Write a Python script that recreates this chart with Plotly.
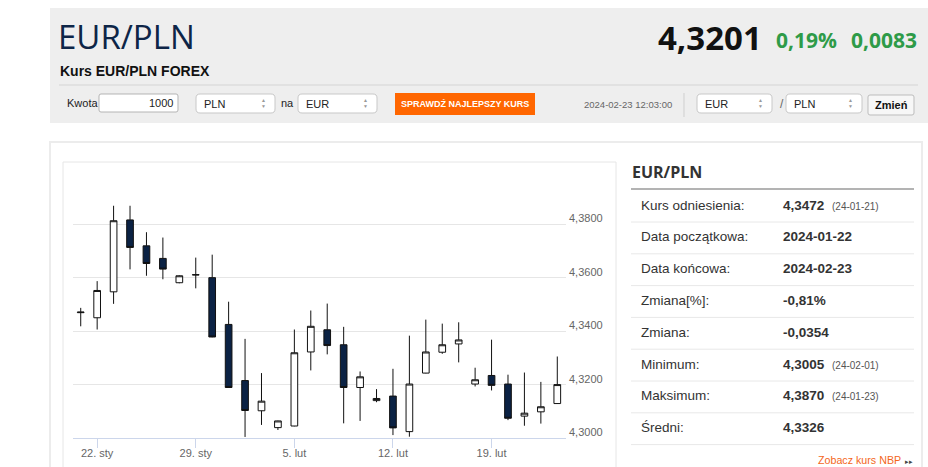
import plotly.graph_objects as go

# daily EUR/PLN candles (Sun-Fri sessions)
dates = ["2024-01-21", "2024-01-22", "2024-01-23", "2024-01-24", "2024-01-25", "2024-01-26",
         "2024-01-28", "2024-01-29", "2024-01-30", "2024-01-31", "2024-02-01", "2024-02-02",
         "2024-02-04", "2024-02-05", "2024-02-06", "2024-02-07", "2024-02-08", "2024-02-09",
         "2024-02-11", "2024-02-12", "2024-02-13", "2024-02-14", "2024-02-15", "2024-02-16",
         "2024-02-18", "2024-02-19", "2024-02-20", "2024-02-21", "2024-02-22", "2024-02-23"]
opens = [4.3470, 4.3451, 4.3548, 4.3817, 4.3720, 4.3673, 4.3582, 4.3611, 4.3601, 4.3426,
         4.3216, 4.3103, 4.3040, 4.3046, 4.3323, 4.3406, 4.3350, 4.3190, 4.3141, 4.3158,
         4.3025, 4.3244, 4.3322, 4.3353, 4.3203, 4.3235, 4.3203, 4.3083, 4.3099, 4.3130]
highs = [4.3488, 4.3588, 4.3870, 4.3870, 4.3771, 4.3751, 4.3610, 4.3676, 4.3687, 4.3511,
         4.3372, 4.3244, 4.3066, 4.3407, 4.3478, 4.3504, 4.3417, 4.3250, 4.3184, 4.3260,
         4.3384, 4.3444, 4.3429, 4.3434, 4.3264, 4.3369, 4.3238, 4.3246, 4.3211, 4.3306]
lows = [4.3419, 4.3407, 4.3503, 4.3632, 4.3608, 4.3595, 4.3580, 4.3561, 4.3378, 4.3189,
        4.3005, 4.3050, 4.3031, 4.3045, 4.3254, 4.3314, 4.3056, 4.3065, 4.3135, 4.3012,
        4.3006, 4.3243, 4.3316, 4.3284, 4.3194, 4.3179, 4.3068, 4.3047, 4.3055, 4.3129]
closes = [4.3472, 4.3553, 4.3814, 4.3714, 4.3654, 4.3633, 4.3608, 4.3612, 4.3379, 4.3190,
          4.3104, 4.3139, 4.3065, 4.3320, 4.3419, 4.3347, 4.3190, 4.3230, 4.3149, 4.3039,
          4.3203, 4.3323, 4.3350, 4.3368, 4.3219, 4.3198, 4.3075, 4.3094, 4.3118, 4.3201]

week_ticks = ["2024-01-22", "2024-01-29", "2024-02-05", "2024-02-12", "2024-02-19"]
week_labels = ["22. sty", "29. sty", "5. lut", "12. lut", "19. lut"]
price_ticks = [4.30, 4.32, 4.34, 4.36, 4.38, 4.40]

# side table
stat_labels = ["Kurs odniesienia:", "Data początkowa:", "Data końcowa:", "Zmiana[%]:",
               "Zmiana:", "Minimum:", "Maksimum:", "Średni:"]
stat_values = ["4,3472", "2024-01-22", "2024-02-23", "-0,81%", "-0,0354", "4,3005", "4,3870", "4,3326"]
stat_dates = ["(24-01-21)", "", "", "", "", "(24-02-01)", "(24-01-23)", ""]

W, H = 928, 467
FONT = "Liberation Sans"


def px(x):
    return x / W


def py(y):
    return 1 - y / H


shapes = []
notes = []


def rect(x0, y0, x1, y1, fill="rgba(0,0,0,0)", line=None, width=1):
    shapes.append(dict(type="rect", xref="paper", yref="paper", layer="below",
                       x0=px(x0), x1=px(x1), y0=py(y1), y1=py(y0), fillcolor=fill,
                       line=dict(color=line or "rgba(0,0,0,0)", width=width if line else 0)))


def rounded(x0, y0, x1, y1, r, fill, line):
    def p(x, y):
        return f"{px(x):.5f},{py(y):.5f}"
    path = (f"M {p(x0 + r, y0)} L {p(x1 - r, y0)} Q {p(x1, y0)} {p(x1, y0 + r)} "
            f"L {p(x1, y1 - r)} Q {p(x1, y1)} {p(x1 - r, y1)} L {p(x0 + r, y1)} "
            f"Q {p(x0, y1)} {p(x0, y1 - r)} L {p(x0, y0 + r)} Q {p(x0, y0)} {p(x0 + r, y0)} Z")
    shapes.append(dict(type="path", xref="paper", yref="paper", layer="below", path=path,
                       fillcolor=fill, line=dict(color=line, width=1)))


def hline(x0, x1, y, color, width=1):
    shapes.append(dict(type="line", xref="paper", yref="paper", layer="below",
                       x0=px(x0), x1=px(x1), y0=py(y), y1=py(y), line=dict(color=color, width=width)))


def vline(x, y0, y1, color, width=1):
    shapes.append(dict(type="line", xref="paper", yref="paper", layer="below",
                       x0=px(x), x1=px(x), y0=py(y0), y1=py(y1), line=dict(color=color, width=width)))


def text(x, y, s, size, color="#333333", anchor="left", family=FONT):
    notes.append(dict(xref="paper", yref="paper", x=px(x), y=py(y), text=s, showarrow=False,
                      xanchor=anchor, yanchor="middle", borderpad=0,
                      font=dict(size=size, color=color, family=family)))


def select(x0, x1, y0, y1, label):
    rounded(x0, y0, x1, y1, 4, "white", "#c8c8c8")
    text(x0 + 7, (y0 + y1) / 2, label, 11, "#222222")
    text(x1 - 12, (y0 + y1) / 2 - 3, "▲", 5, "#999999", "center")
    text(x1 - 12, (y0 + y1) / 2 + 3, "▼", 5, "#999999", "center")


# header block
rect(50, 8, 940, 123, fill="#eeeeee")
hline(59, 918, 85, "#d4d4d4")
text(57, 36, "EUR/PLN", 33, "#0d2547", family="Open Sans")
text(59, 71, "<b>Kurs EUR/PLN FOREX</b>", 14, "#111111")
text(763, 37, "<b>4,3201</b>", 33, "#111111", "right", family="Open Sans")
text(775, 40, "<b>0,19%</b>", 21, "#2e9b48", family="Open Sans")
text(850, 40, "<b>0,0083</b>", 21, "#2e9b48", family="Open Sans")

# form row
text(66, 103, "Kwota", 11, "#222222")
rounded(99, 94, 178, 112, 2, "white", "#b4b4b4")
text(174, 103, "1000", 11, "#222222", "right")
select(196, 275, 94, 113, "PLN")
text(280, 103, "na", 11, "#222222")
select(298, 377, 94, 113, "EUR")
rect(395, 93, 535, 115, fill="#ff6600")
text(465, 104, "<b>SPRAWDŹ NAJLEPSZY KURS</b>", 9, "white", "center")
text(583, 104, "2024-02-23 12:03:00", 9.5, "#666666")
vline(684, 93, 117, "#cfcfcf")
select(697, 772, 94, 113, "EUR")
text(779, 104, "/", 12, "#666666")
select(786, 862, 94, 113, "PLN")
rounded(868, 95, 914, 115, 2, "#f7f7f7", "#bdbdbd")
text(891, 105, "<b>Zmień</b>", 11, "#111111", "center")

# chart panel and boxes
rect(50, 142, 922, 480, line="#ececec", width=2)
rect(63, 162, 616, 480, line="#e6e6e6")

# side table
text(631, 172, "<b>EUR/PLN</b>", 16, "#333333", family="Open Sans")
hline(631, 914, 189, "#9a9a9a", 1.5)
for i, (lab, val, dt) in enumerate(zip(stat_labels, stat_values, stat_dates)):
    yc = 205 + i * 31.8
    text(640, yc, lab, 13.5, "#333333")
    text(782, yc, f"<b>{val}</b>", 13.5, "#333333")
    if dt:
        text(831, yc + 1, dt, 10, "#555555")
    hline(631, 914, yc + 17, "#e8e8e8")
text(902, 460, "Zobacz kurs NBP", 10.7, "#f4661b", "right")
text(909, 461, "▸▸", 7, "#444444", "center")

fig = go.Figure(go.Candlestick(
    x=dates, open=opens, high=highs, low=lows, close=closes,
    increasing=dict(fillcolor="white", line=dict(color="#111111", width=1)),
    decreasing=dict(fillcolor="#0b2244", line=dict(color="#111111", width=1)),
    whiskerwidth=0, hoverinfo="skip", showlegend=False,
))

fig.update_layout(
    width=W, height=H, margin=dict(l=0, r=0, t=0, b=0),
    paper_bgcolor="white", plot_bgcolor="white",
    font=dict(family=FONT, color="#666666"),
    boxgap=0.42, shapes=shapes, annotations=notes,
    xaxis=dict(
        type="category", domain=[px(73), px(566)], range=[-0.47, 29.53],
        rangeslider=dict(visible=False), fixedrange=True, automargin=False,
        tickvals=week_ticks, ticktext=week_labels, ticks="outside", ticklen=9,
        tickcolor="#ccd6eb", showline=True, linecolor="#ccd6eb", showgrid=False,
        ticklabelstandoff=-5,
        tickfont=dict(size=11, color="#666666"),
    ),
    yaxis=dict(
        side="right", domain=[py(438.3), py(171)], range=[4.30, 4.40], fixedrange=True,
        automargin=False,
        tickvals=price_ticks,
        ticktext=[f"{v:.4f}".replace(".", ",") if v < 4.39 else "" for v in price_ticks],
        gridcolor="#e6e6e6", zeroline=False, showline=False, ticks="",
        ticklabelshift=-6, ticklabelstandoff=2,
        tickfont=dict(size=11, color="#666666"),
    ),
)

fig.write_html("out.html", config={"displayModeBar": False},
               post_script="document.body.style.margin='0';document.body.style.overflow='hidden';")
